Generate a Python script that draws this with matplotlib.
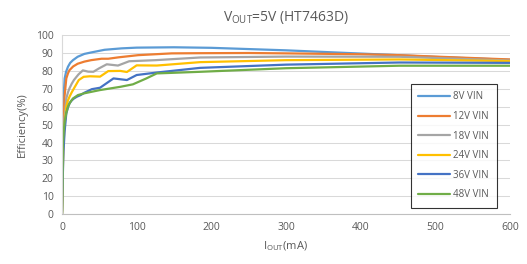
import matplotlib.pyplot as plt
import numpy as np

plt.rcParams["font.family"] = ["Open Sans", "DejaVu Sans"]
plt.rcParams["mathtext.default"] = "regular"

LABELS = ["8V VIN", "12V VIN", "18V VIN", "24V VIN", "36V VIN", "48V VIN"]
COLORS = ["#5B9BD5", "#ED7D31", "#A5A5A5", "#FFC000", "#4472C4", "#70AD47"]

I_8V = [0, 0.7, 1.5, 2.5, 3.6, 5.5, 8, 11, 14.7, 21, 30, 39, 57, 80, 100, 150, 200, 300, 400, 450, 500, 600]
E_8V = [0, 35, 55, 68, 75.8, 79.5, 82.3, 84.5, 86, 87.9, 89.5, 90.3, 91.8, 92.6, 93, 93.2, 92.9, 91.5, 89.7, 88.8, 87.8, 86.2]

I_12V = [0, 1, 2, 3.5, 5.8, 8, 10, 15, 21, 30, 39, 53, 62, 76, 102, 147, 185, 250, 300, 400, 452, 500, 600]
E_12V = [0, 32, 52, 66, 75.8, 78.6, 80.4, 82.5, 84, 85.2, 86, 86.8, 86.8, 87.6, 88.8, 89.8, 89.9, 90, 89.8, 89.3, 88.8, 88, 86.4]

I_18V = [0, 1, 2, 3.5, 5.8, 8, 10, 13, 16, 22, 28, 35, 42, 50, 60, 75, 90, 125, 185, 300, 452, 600]
E_18V = [0, 26, 42, 54, 64.6, 68, 70.2, 72.8, 74.9, 78, 80.3, 79.6, 79.5, 81.5, 83.7, 83, 85.4, 86, 87.5, 88, 87.9, 85.8]

I_24V = [0, 1, 2, 3.5, 5.8, 8, 10, 13, 16, 22.5, 29, 37.5, 51, 62, 78, 87, 100, 127, 185, 300, 452, 600]
E_24V = [0, 22, 38, 50, 60, 63.5, 65.5, 68, 70.2, 74.9, 76.7, 77, 76.8, 79.9, 80, 79.4, 83.1, 83, 84.9, 86, 86.4, 85.5]

I_36V = [0, 1, 2, 3.5, 5.8, 8, 10, 13, 16, 20, 25, 30, 40, 51, 69, 87, 100, 127, 185, 300, 452, 600]
E_36V = [0, 20, 35, 46, 56.3, 59.5, 61.8, 63.5, 64.6, 65.6, 66.5, 67.8, 69.8, 70.6, 75.8, 74.9, 77.7, 79.1, 81.7, 83.5, 84.7, 84.5]

I_48V = [0, 0.3, 1.3, 2.3, 3.6, 5.8, 8, 11, 14.7, 21.4, 30, 51, 78, 95, 113, 127, 185, 300, 452, 600]
E_48V = [0, 2, 38.5, 46, 51.6, 56.5, 60, 62.5, 64.6, 66.5, 67.5, 69.3, 71.1, 72.5, 75.8, 78.6, 79.5, 81.5, 82.9, 82.9]

CURRENTS = [I_8V, I_12V, I_18V, I_24V, I_36V, I_48V]
EFFS = [E_8V, E_12V, E_18V, E_24V, E_36V, E_48V]

TEXT = "#595959"

fig = plt.figure(figsize=(5.27, 2.64), dpi=100)
ax = fig.add_axes([0.1176, 0.189, 0.85, 0.678])

for cur, eff, lab, col in zip(CURRENTS, EFFS, LABELS, COLORS):
    ax.plot(cur, eff, color=col, linewidth=1.6, label=lab,
            solid_joinstyle="round", solid_capstyle="round")

ax.set_xlim(0, 600)
ax.set_ylim(0, 100)
ax.set_xticks(np.arange(0, 601, 100))
ax.set_yticks(np.arange(0, 101, 10))
ax.grid(axis="y", color="#D9D9D9", linewidth=0.75)
ax.set_axisbelow(True)
for s in ["top", "right"]:
    ax.spines[s].set_visible(False)
ax.spines["bottom"].set_color("#BFBFBF")
ax.spines["left"].set_color("#D9D9D9")
ax.tick_params(length=0, labelsize=7.5, colors=TEXT, pad=6)

ax.set_xlabel(r"I$_{OUT}$(mA)", fontsize=8, color=TEXT, labelpad=4)
ax.set_ylabel("Efficiency(%)", fontsize=8, color=TEXT, labelpad=6)
ax.set_title(r"V$_{OUT}$=5V (HT7463D)", fontsize=10, color=TEXT, pad=10)

leg = ax.legend(loc="lower right", bbox_to_anchor=(0.971, 0.034), fontsize=7,
                frameon=True, fancybox=False, labelspacing=0.88, handlelength=3.3,
                handletextpad=0.3, borderpad=0.8, borderaxespad=0,
                labelcolor=TEXT)
leg.get_frame().set_edgecolor("black")
leg.get_frame().set_linewidth(0.8)

fig.savefig("out.png", dpi=100)
